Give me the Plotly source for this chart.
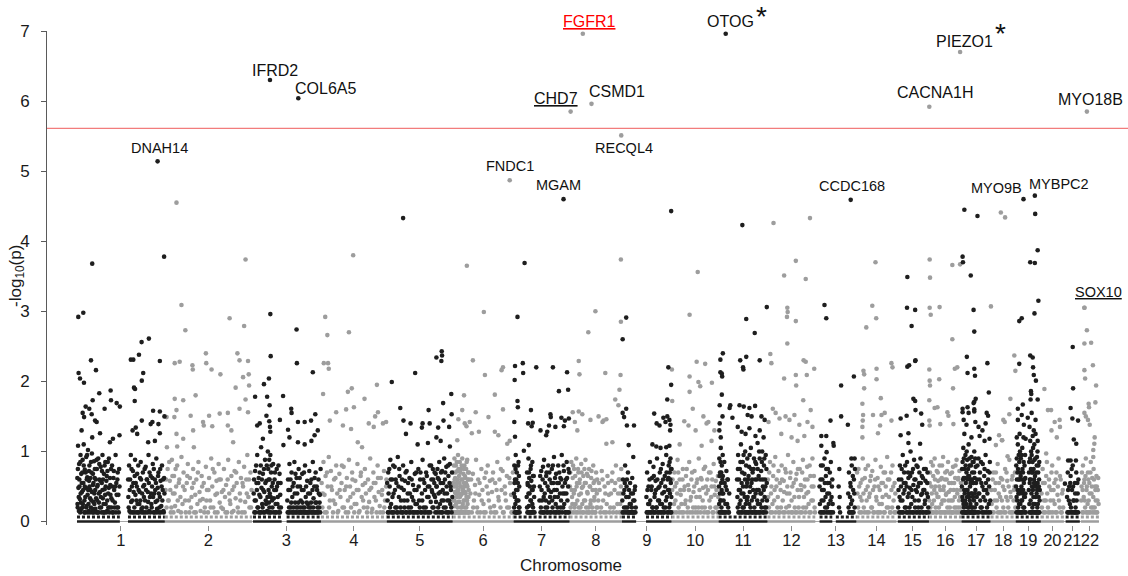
import plotly.graph_objects as go

# ---------------- data ----------------
chrom_names = [str(i) for i in range(1, 23)]
# chromosome extent along the x axis (Mb)
chrom_span = [248, 246, 195, 186, 186, 172, 158, 148, 140, 133, 138, 135,
              116, 113, 92, 92, 82, 71, 71, 65, 48, 51]

# (position in Mb within chromosome, -log10(p))
chr1 = [(3.7,2.92),(17.8,2.98),(39.5,2.30),(53.6,2.16),(4.5,2.12),(8.5,2.04),(19.7,1.98),(62.9,1.83),(95,1.87),(44.3,1.73),
        (24.5,1.64),(34.7,1.61),(78,1.61),(96,1.73),(112,1.69),(121,1.64),(16,1.55),(41.5,1.53),(51,1.44),(55.5,1.42),(20,1.49),
        (65,1.26),(101.5,1.18),(120,1.23),(93,1.13),(43,1.2),(13,1.3),(246,3.78),(43,3.68),
        (182.5,2.56),(203,2.61),(152,2.31),(159,2.31),(175,2.38),(234,2.29),(187,2.12),(183,2.01),(161,1.91),(164,1.89),(163,1.72),
        (215,1.58),(234,1.57),(183,1.44),(208,1.39),(213,1.42),(230,1.39),(247,1.5),(166,1.34),(157,1.3),(170,1.25),(201,1.13),(234,1.26),(220,1.15),
        (1,0.62),(2,0.2),(3,1.08),(5,0.35),(6,0.82),(7,0.5),(9,0.13),(10,0.95),(11,0.27),(12,0.68),(14,0.42),(15,0.2),(16,0.88),(18,0.55),
        (19,1.1),(21,0.3),(22,0.74),(23,0.13),(25,0.48),(26,0.92),(27,0.22),(29,0.63),(30,0.38),(31,1.02),(33,0.15),(34,0.58),(35,0.8),
        (37,0.33),(38,0.45),(39,0.2),(41,0.7),(42,0.97),(44,0.13),(45,0.52),(46,0.28),(48,0.86),(49,0.4),(50,0.62),(52,0.18),(54,0.33),
        (56,0.75),(57,0.5),(59,0.13),(60,0.9),(62,0.27),(63,0.6),(65,0.42),(67,0.78),(68,0.2),(70,0.55),(72,0.95),(73,0.33),(75,0.13),
        (76,0.68),(78,0.46),(80,0.85),(81,0.25),(83,0.58),(85,0.15),(86,0.72),(88,0.4),(90,0.9),(92,0.2),(94,0.52),(97,0.33),(99,0.8),
        (100,0.13),(103,0.62),(105,0.45),(107,0.27),(109,0.95),(111,0.55),(113,0.2),(115,0.7),(117,0.38),(118,0.13),(120,0.5),
        (1.5,0.25),(2.5,0.75),(4,0.48),(5.5,0.15),(6.5,0.6),(8,0.32),(9.5,0.85),(10.5,0.4),(12,0.18),(13.5,0.55),(15,0.7),(16.5,0.25),
        (17.5,0.45),(19,0.8),(20.5,0.13),(22,0.5),(23.5,0.35),(24.5,0.7),(26,0.2),(27.5,0.6),(28.5,0.95),(30,0.13),(31.5,0.45),(32.5,0.25),
        (34,0.72),(35.5,0.5),(36.5,0.13),(38,0.62),(39.5,0.85),(40.5,0.3),(42,0.42),(43.5,0.18),(45,0.68),(46.5,0.55),(47.5,0.13),(49,0.25),
        (50.5,0.75),(51.5,0.45),(53,0.6),(54.5,0.13),(55.5,0.88),(57,0.3),(58.5,0.52),(60,0.13),(61.5,0.4),(63,0.82),(64.5,0.2),(66,0.58),
        (67.5,0.35),(69,0.13),(70.5,0.72),(72,0.45),(73.5,0.6),(75,0.25),(76.5,0.13),(78,0.8),(79.5,0.38),(81,0.5),(82.5,0.13),(84,0.65),
        (85.5,0.3),(87,0.85),(88.5,0.2),(90,0.48),(91.5,0.13),(93,0.62),(94.5,0.38),(96,0.75),(97.5,0.2),(99,0.5),(100.5,0.3),(102,0.13),
        (104,0.72),(106,0.2),(108,0.5),(110,0.13),(112,0.38),(114,0.6),(116,0.2),(119,0.75),
        (145,0.35),(147,0.8),(148,0.15),(150,0.6),(152,0.95),(153,0.28),(155,0.5),(157,0.13),(158,0.72),(160,0.42),(162,0.2),(164,0.88),
        (166,0.55),(168,0.3),(170,0.68),(172,0.13),(174,0.45),(176,0.25),(178,0.62),(180,0.85),(182,0.18),(184,0.4),(186,0.7),(188,0.13),
        (190,0.52),(192,0.3),(194,0.78),(196,0.2),(198,0.6),(200,0.42),(202,0.95),(204,0.15),(206,0.35),(208,0.65),(210,0.25),(212,0.5),
        (214,0.82),(216,0.13),(218,0.4),(220,0.6),(222,0.28),(224,0.9),(226,0.18),(228,0.48),(230,0.7),(232,0.13),(234,0.35),(236,0.58),
        (238,0.22),(240,0.8),(242,0.45),(244,0.15),(246,0.62),
        (144.5,0.6),(146,0.2),(149,0.45),(151,0.13),(154,0.75),(156,0.3),(159,0.55),(161,0.13),(163,0.65),(165,0.38),(167,0.13),(169,0.5),
        (171,0.25),(173,0.8),(175,0.13),(177,0.42),(179,0.3),(181,0.6),(183,0.13),(185,0.2),(187,0.5),(189,0.35),(191,0.75),(193,0.13),
        (195,0.45),(197,0.6),(199,0.13),(201,0.28),(203,0.55),(205,0.7),(207,0.13),(209,0.4),(211,0.2),(213,0.62),(215,0.35),(217,0.75),
        (219,0.13),(221,0.45),(223,0.55),(225,0.13),(227,0.3),(229,0.65),(231,0.4),(233,0.2),(235,0.75),(237,0.13),(239,0.5),(241,0.3),
        (243,0.6),(245,0.13),(247,0.4)]
chr2 = [(47,3.09),(58,2.73),(183,2.9),(224,2.79),(28,2.26),(42,2.28),(116,2.40),(117,2.26),(78,2.23),(79,2.17),(132,2.17),(157,2.1),
        (205,2.4),(211,2.3),(235,2.29),(237,2.1),(221,2.06),(200,1.91),(238,1.94),(228,1.74),(211,1.61),(235,1.56),(28,1.75),(52,1.73),
        (87,1.8),(33,1.59),(73,1.51),(27,1.49),(5,1.49),(108,1.42),(125,1.51),(155,1.54),(178,1.55),(134,1.36),(110,1.37),(80,1.3),
        (33,1.25),(52,1.18),(35,1.07),(6,1.06),(82,1.06),(178,1.37),(188,1.3),(193,1.13),(33,4.55),(228,3.74),
        (2,0.45),(5,0.2),(8,0.75),(11,0.3),(14,0.58),(17,0.13),(20,0.88),(23,0.4),(26,0.65),(29,0.22),(32,0.5),(35,0.8),(38,0.15),(41,0.6),
        (44,0.35),(47,0.92),(50,0.25),(53,0.7),(56,0.45),(59,0.13),(62,0.55),(65,0.82),(68,0.3),(71,0.62),(74,0.2),(77,0.48),(80,0.75),
        (83,0.13),(86,0.38),(89,0.6),(92,0.25),(95,0.85),(98,0.42),(101,0.15),(104,0.65),(107,0.32),(110,0.55),(113,0.2),(116,0.78),
        (119,0.45),(122,0.13),(125,0.62),(128,0.3),(131,0.9),(134,0.5),(137,0.2),(140,0.7),(143,0.38),(146,0.58),(149,0.13),(152,0.82),
        (155,0.27),(158,0.6),(161,0.42),(164,0.18),(167,0.75),(170,0.35),(173,0.52),(176,0.13),(179,0.88),(182,0.4),(185,0.25),(188,0.65),
        (191,0.45),(194,0.15),(197,0.72),(200,0.33),(203,0.55),(206,0.2),(209,0.85),(212,0.4),(215,0.62),(218,0.13),(221,0.5),(224,0.78),
        (227,0.28),(230,0.6),(233,0.95),(236,0.35),(239,0.2),(242,0.7),(245,0.45),
        (3.5,0.6),(9.5,0.3),(12.5,0.85),(15.5,0.45),(18.5,0.2),(21.5,0.65),(24.5,0.13),(27.5,0.4),(30.5,0.75),(36.5,0.3),(39.5,0.55),
        (45.5,0.13),(51.5,0.5),(57.5,0.3),(63.5,0.65),(69.5,0.13),(75.5,0.35),(81.5,0.55),(87.5,0.13),(93.5,0.7),(99.5,0.3),(105.5,0.5),
        (111.5,0.13),(117.5,0.3),(123.5,0.45),(129.5,0.2),(135.5,0.75),(141.5,0.13),(147.5,0.4),(153.5,0.6),(159.5,0.2),(165.5,0.45),
        (171.5,0.13),(177.5,0.6),(183.5,0.3),(189.5,0.13),(195.5,0.5),(201.5,0.7),(207.5,0.13),(213.5,0.3),(219.5,0.55),(225.5,0.13),
        (231.5,0.4),(237.5,0.6),(243.5,0.2)]
chr3 = [(52,2.96),(53,2.36),(48,2.04),(34,1.96),(9,1.78),(43,1.78),(50,1.66),(41,1.51),(22,1.4),(15,1.37),(49,1.43),(51,1.35),(52,1.28),
        (79,1.45),(102,1.31),(89,1.09),(88,1.79),(126,2.74),(127,2.26),(172,2.13),(111,1.61),(112,1.55),(130,1.42),(149,1.42),(179,1.53),
        (167,1.44),(186,1.3),(177,1.23),(168,1.15),(106,1.2),(130,1.13),(149,1.1),(31,1.18),(26,1.06),
        (5,0.4),(7,0.13),(9,0.72),(11,0.3),(13,0.55),(15,0.95),(17,0.2),(19,0.62),(21,0.38),(23,0.13),(25,0.8),(27,0.48),(29,0.25),(31,0.68),
        (33,0.13),(35,0.42),(37,0.88),(39,0.3),(41,0.58),(43,0.15),(45,1.0),(46,0.75),(47,0.45),(48,0.27),(49,0.88),(50,0.6),(51,0.13),
        (52,0.95),(53,0.35),(54,0.7),(56,0.5),(58,0.2),(60,0.82),(62,0.33),(64,0.6),(66,0.13),(68,0.45),(70,0.75),(72,0.25),(74,0.55),
        (76,0.13),(78,0.68),(80,0.38),(82,0.2),
        (6,0.6),(8,0.3),(10,0.13),(12,0.8),(14,0.45),(16,0.2),(18,0.55),(20,0.13),(22,0.7),(24,0.35),(26,0.13),(28,0.6),(30,0.2),(32,0.45),
        (34,0.75),(36,0.13),(38,0.55),(40,0.25),(42,0.8),(44,0.35),(46,0.13),(47.5,0.6),(49.5,0.2),(50.5,0.4),(53.5,0.13),(55,0.8),(57,0.3),
        (59,0.55),(61,0.13),(63,0.45),(65,0.7),(67,0.25),(69,0.13),(71,0.5),(73,0.35),(75,0.8),(77,0.2),(79,0.13),(81,0.55),
        (100,0.3),(102,0.6),(104,0.13),(106,0.82),(108,0.45),(110,0.2),(112,0.7),(114,0.35),(116,0.13),(118,0.55),(120,0.85),(122,0.27),
        (124,0.13),(126,0.62),(128,0.4),(130,0.2),(132,0.75),(134,0.13),(136,0.5),(138,0.3),(140,0.13),(142,0.68),(144,0.2),(146,0.45),
        (148,0.13),(150,0.8),(152,0.35),(154,0.13),(156,0.58),(158,0.25),(160,0.13),(162,0.72),(164,0.4),(166,0.2),(168,0.6),(170,0.13),
        (172,0.85),(174,0.33),(176,0.5),(178,0.13),(180,0.7),(182,0.27),(184,0.45),(186,0.13),(188,0.6),(190,0.2),(192,0.38),(194,0.75),
        (101,0.13),(103,0.45),(105,0.2),(107,0.13),(109,0.6),(111,0.27),(113,0.13),(115,0.5),(117,0.2),(119,0.13),(121,0.4),(123,0.68),
        (125,0.2),(127,0.13),(129,0.5),(131,0.27),(133,0.13),(135,0.62),(137,0.2),(139,0.13),(141,0.45),(143,0.27),(145,0.13),(147,0.7),
        (149,0.2),(151,0.13),(153,0.5),(155,0.27),(157,0.13),(159,0.4),(161,0.2),(163,0.13),(165,0.55),(167,0.27),(169,0.13),(171,0.45),
        (173,0.2),(175,0.13),(177,0.62),(179,0.27),(181,0.13),(183,0.5),(185,0.2),(187,0.13),(189,0.4),(191,0.27),(193,0.13)]
chr4 = [(12,2.92),(18,2.66),(8,2.26),(20,2.26),(22,2.18),(79,2.7),(6,1.82),(87,1.9),(76,1.85),(158,1.95),(123,1.75),(93,1.63),(71,1.6),
        (43,1.56),(25,1.44),(161,1.56),(153,1.5),(149,1.35),(175,1.4),(184,1.42),(62,1.37),(85,1.32),(104,1.13),(116,1.06),(135,1.4),(91,3.8),
        (2,0.55),(4,0.2),(7,0.85),(10,0.38),(13,0.65),(16,0.13),(19,0.5),(22,0.92),(25,0.3),(28,0.72),(31,0.45),(34,0.13),(37,0.6),(40,0.25),
        (43,0.8),(46,0.4),(49,0.15),(52,0.68),(55,0.35),(58,0.55),(61,0.2),(64,0.78),(67,0.45),(70,0.13),(73,0.62),(76,0.3),(79,0.88),
        (82,0.5),(85,0.2),(88,0.7),(91,0.4),(94,0.13),(97,0.58),(100,0.25),(103,0.82),(106,0.45),(109,0.15),(112,0.65),(115,0.35),(118,0.52),
        (121,0.2),(124,0.75),(127,0.4),(130,0.13),(133,0.6),(136,0.28),(139,0.9),(142,0.48),(145,0.18),(148,0.7),(151,0.35),(154,0.55),
        (157,0.13),(160,0.8),(163,0.42),(166,0.22),(169,0.62),(172,0.38),(175,0.13),(178,0.72),(181,0.3),(184,0.5),
        (5,0.4),(11,0.13),(17,0.7),(23,0.2),(29,0.5),(35,0.3),(41,0.62),(47,0.13),(53,0.45),(59,0.8),(65,0.2),(71,0.5),(77,0.13),(83,0.35),
        (89,0.6),(95,0.25),(101,0.45),(107,0.13),(113,0.7),(119,0.3),(125,0.55),(131,0.2),(137,0.45),(143,0.13),(149,0.55),(155,0.3),
        (161,0.62),(167,0.13),(173,0.45),(179,0.2),(185,0.6)]
chr5 = [(14,1.99),(38,1.62),(47,1.44),(67,1.4),(54,1.25),(80,2.12),(140,2.34),(155,2.43),(156,2.37),(154,2.29),(118,1.59),(159,1.69),
        (182,1.82),(101,1.4),(99,1.34),(121,1.4),(145,1.34),(160,1.44),(176,1.35),(183,1.53),(116,1.12),(140,1.2),(152,1.15),(178,1.07),
        (87,1.1),(46,4.33),
        (2,0.3),(4,0.7),(6,0.13),(8,0.5),(10,0.88),(12,0.25),(15,0.6),(17,0.13),(19,0.4),(22,0.78),(24,0.2),(27,0.55),(29,0.13),(31,0.92),
        (34,0.35),(36,0.65),(39,0.2),(41,0.48),(44,0.13),(46,0.8),(49,0.3),(51,0.58),(54,0.13),(56,0.72),(59,0.4),(61,0.2),(64,0.62),
        (66,0.13),(69,0.85),(71,0.35),(74,0.52),(76,0.13),(79,0.68),(81,0.25),(84,0.45),(86,0.13),(89,0.75),(91,0.3),(94,0.6),(96,0.13),
        (99,0.4),(101,0.88),(104,0.2),(106,0.55),(109,0.13),(111,0.7),(114,0.35),(116,0.5),(119,0.13),(121,0.8),(124,0.28),(126,0.6),
        (128,0.42),(130,0.75),(132,0.2),(134,0.55),(136,0.35),(138,0.68),(140,0.5),(142,0.13),(144,0.62),(146,0.4),(148,0.85),(150,0.25),
        (152,0.55),(154,0.13),(156,0.72),(158,0.45),(160,0.3),(162,0.9),(164,0.6),(166,0.2),(168,0.78),(170,0.4),(172,0.13),(174,0.65),
        (176,0.3),(178,0.82),(180,0.5),(182,0.2),(184,0.7),
        (1,0.55),(3,0.13),(5,0.4),(7,0.75),(9,0.2),(11,0.6),(13,0.13),(16,0.35),(18,0.8),(20,0.13),(23,0.45),(25,0.6),(28,0.2),(30,0.13),
        (33,0.5),(35,0.75),(38,0.13),(40,0.3),(43,0.6),(45,0.13),(48,0.45),(50,0.2),(53,0.7),(55,0.13),(58,0.3),(60,0.55),(63,0.13),(65,0.4),
        (68,0.2),(70,0.6),(73,0.13),(75,0.3),(78,0.45),(80,0.13),(83,0.7),(85,0.25),(88,0.13),(90,0.5),(93,0.2),(95,0.7),(98,0.13),(100,0.3),
        (103,0.6),(105,0.13),(108,0.45),(110,0.2),(113,0.65),(115,0.13),(118,0.35),(120,0.5),(123,0.13),(125,0.8),(127,0.45),(129,0.2),
        (131,0.6),(133,0.38),(135,0.7),(137,0.13),(139,0.28),(141,0.5),(143,0.75),(145,0.2),(147,0.6),(149,0.13),(151,0.42),(153,0.7),
        (155,0.3),(157,0.13),(159,0.55),(161,0.2),(163,0.4),(165,0.7),(167,0.13),(169,0.5),(171,0.3),(173,0.8),(175,0.13),(177,0.55),
        (179,0.25),(181,0.45),(183,0.13),(185,0.35)]
chr6 = [(40,3.65),(88,2.99),(57,2.3),(91,2.09),(142,2.2),(138,2.16),(119,1.81),(32,1.8),(27,1.59),(16,1.46),(65,1.56),(101,1.49),
        (142,1.6),(34,1.4),(39,1.36),(48,1.42),(54,1.26),(74,1.28),(119,1.28),(129,1.23),(154,1.11),(161,1.15),(13,1.16),
        (1,0.3),(2,0.7),(3,0.13),(4,0.5),(5,0.9),(6,0.22),(7,0.62),(8,0.4),(9,0.8),(10,0.13),(11,0.55),(12,0.35),(13,0.72),(14,0.2),
        (15,0.95),(16,0.45),(17,0.13),(18,0.65),(19,0.28),(20,0.85),(21,0.5),(22,0.13),(23,0.75),(24,0.38),(25,0.6),(26,0.2),(27,0.9),
        (28,0.45),(29,0.13),(30,0.68),(31,0.3),(32,0.55),(33,0.8),(34,0.2),(35,0.42),(36,0.62),(37,0.13),(38,0.75),(39,0.35),(40,0.52),
        (41,0.88),(42,0.25),(43,0.6),(44,0.13),(45,0.45),(46,0.7),
        (1.5,0.55),(2.5,0.13),(3.5,0.8),(4.5,0.3),(5.5,0.6),(6.5,0.42),(7.5,0.13),(8.5,0.7),(9.5,0.25),(10.5,0.5),(11.5,0.85),(12.5,0.13),
        (13.5,0.45),(14.5,0.6),(15.5,0.28),(16.5,0.75),(17.5,0.4),(18.5,0.13),(19.5,0.55),(20.5,0.35),(21.5,0.7),(22.5,0.2),(23.5,0.5),
        (24.5,0.13),(25.5,0.8),(26.5,0.4),(27.5,0.6),(28.5,0.25),(29.5,0.45),(30.5,0.13),(31.5,0.75),(32.5,0.3),(33.5,0.5),(34.5,0.65),
        (35.5,0.13),(36.5,0.4),(37.5,0.55),(38.5,0.2),(39.5,0.85),(40.5,0.3),(41.5,0.5),(42.5,0.13),(43.5,0.7),(44.5,0.35),(45.5,0.6),
        (46.5,0.13),
        (50,0.4),(54,0.13),(57,0.68),(60,0.3),(63,0.52),(66,0.88),(69,0.2),(72,0.6),(75,0.38),(78,0.13),(81,0.75),(84,0.45),(87,0.25),
        (90,0.62),(93,0.13),(96,0.5),(99,0.8),(102,0.3),(105,0.58),(108,0.13),(111,0.42),(114,0.7),(117,0.22),(120,0.55),(123,0.13),
        (126,0.85),(129,0.35),(132,0.6),(135,0.2),(138,0.45),(141,0.72),(144,0.13),(147,0.5),(150,0.3),(153,0.65),(156,0.9),(159,0.2),
        (162,0.55),(165,0.38),(168,0.13),(170,0.7),
        (52,0.6),(58,0.2),(64,0.4),(70,0.13),(76,0.55),(82,0.3),(88,0.13),(94,0.7),(100,0.4),(106,0.2),(112,0.6),(118,0.13),(124,0.45),
        (130,0.3),(136,0.75),(142,0.13),(148,0.4),(154,0.2),(160,0.62),(166,0.13)]
chr7 = [(31,3.69),(11,2.92),(4,2.22),(26,2.26),(3,2.02),(27,2.12),(64,2.2),(111,2.2),(151,2.13),(128,1.86),(154,1.88),(11,1.72),
        (12,1.63),(49,1.59),(2,1.42),(41,1.4),(51,1.36),(54,1.41),(76,1.3),(104,1.53),(105,1.49),(100,1.37),(118,1.35),(135,1.48),
        (145,1.44),(156,1.47),(142,1.36),(95,1.28),(92,1.23),(4,1.21),(43,1.09),(29,1.01),
        (1,0.4),(2,0.8),(3,0.13),(4,0.6),(5,0.25),(6,0.95),(7,0.45),(8,0.13),(9,0.7),(10,0.3),(12,0.55),(13,0.13),(14,0.85),(15,0.2),
        (16,0.5),(17,0.13),
        (1.5,0.2),(2.5,0.55),(3.5,0.35),(5.5,0.75),(6.5,0.13),(7.5,0.6),(8.5,0.3),(9.5,0.13),(11,0.45),(12.5,0.8),(13.5,0.3),(15,0.65),
        (16.5,0.2),
        (37,0.35),(38,0.7),(39,0.13),(40,0.52),(42,0.9),(43,0.22),(44,0.62),(45,0.4),(47,0.13),(48,0.75),(49,0.3),(50,0.58),(52,0.13),
        (53,0.85),(54,0.45),(55,0.2),(57,0.65),(58,0.35),(59,0.13),
        (38,0.2),(39.5,0.55),(41,0.13),(42,0.4),(43.5,0.7),(45,0.13),(46,0.5),(47.5,0.3),(49,0.8),(50.5,0.13),(51.5,0.45),(53,0.25),
        (54.5,0.65),(56,0.13),(57.5,0.5),
        (74,0.5),(76,0.13),(78,0.72),(80,0.3),(82,0.6),(84,0.13),(86,0.88),(88,0.4),(90,0.2),(92,0.65),(94,0.13),(96,0.5),(98,0.8),
        (100,0.27),(102,0.6),(104,0.13),(106,0.42),(108,0.75),(110,0.2),(112,0.55),(114,0.92),(116,0.35),(118,0.13),(120,0.68),(122,0.45),
        (124,0.2),(126,0.8),(128,0.55),(130,0.13),(132,0.62),(134,0.3),(136,0.95),(138,0.5),(140,0.2),(142,0.72),(144,0.4),(146,0.13),
        (148,0.6),(150,0.85),(152,0.3),(154,0.5),(156,0.13),(157,0.7),
        (73,0.3),(75,0.65),(77,0.2),(79,0.45),(81,0.13),(83,0.78),(85,0.35),(87,0.13),(89,0.55),(91,0.3),(93,0.7),(95,0.2),(97,0.13),
        (99,0.45),(101,0.7),(103,0.35),(105,0.13),(107,0.55),(109,0.3),(111,0.8),(113,0.13),(115,0.45),(117,0.62),(119,0.25),(121,0.13),
        (123,0.55),(125,0.35),(127,0.13),(129,0.7),(131,0.4),(133,0.2),(135,0.6),(137,0.13),(139,0.4),(141,0.8),(143,0.25),(145,0.55),
        (147,0.13),(149,0.4),(151,0.62),(153,0.13),(155,0.75)]
chr8 = [(145,3.74),(73,3.0),(53,2.7),(26,2.29),(28,2.1),(9,1.56),(26,1.57),(36,1.53),(15,1.42),(22,1.3),(59,1.45),(101,2.12),(145,2.85),
        (144,2.09),(141,1.88),(129,1.74),(138,1.66),(82,1.5),(93,1.42),(104,1.46),(96,1.44),(104,1.11),(121,1.13),
        (1,0.5),(3,0.2),(5,0.85),(7,0.35),(9,0.62),(11,0.13),(13,0.75),(15,0.45),(17,0.25),(19,0.9),(21,0.55),(23,0.13),(25,0.7),(27,0.38),
        (29,0.6),(31,0.2),(33,0.82),(35,0.48),(37,0.13),(39,0.65),(41,0.3),(43,0.55),(45,0.88),(47,0.2),(49,0.68),(51,0.4),(53,0.13),
        (55,0.75),(57,0.5),(59,0.25),(61,0.62),(63,0.13),(65,0.45),(67,0.8),(69,0.3),(71,0.58),(73,0.13),(75,0.7),(77,0.4),(79,0.2),
        (83,0.55),(87,0.13),(91,0.72),(95,0.3),(99,0.5),(103,0.13),(107,0.65),(111,0.38),(115,0.2),(119,0.58),(123,0.13),(127,0.45),
        (131,0.8),(135,0.25),(139,0.6),(142,0.13),(144,0.4),(146,0.75),
        (2,0.7),(4,0.13),(6,0.45),(8,0.25),(10,0.8),(12,0.4),(14,0.2),(16,0.65),(18,0.13),(20,0.5),(22,0.3),(24,0.75),(26,0.2),(28,0.55),
        (30,0.13),(32,0.4),(34,0.7),(36,0.25),(38,0.5),(40,0.13),(42,0.75),(44,0.3),(46,0.55),(48,0.13),(50,0.42),(52,0.65),(54,0.2),
        (56,0.13),(58,0.5),(60,0.3),(62,0.72),(64,0.2),(66,0.13),(68,0.55),(70,0.35),(72,0.13),(74,0.45),(76,0.2),(78,0.6),(81,0.3),
        (85,0.45),(89,0.2),(93,0.6),(97,0.13),(101,0.4),(105,0.25),(109,0.55),(113,0.13),(117,0.4),(121,0.7),(125,0.2),(129,0.55),
        (133,0.13),(137,0.4),(141,0.6),(143,0.25),(145,0.5),(147,0.13)]
chr9 = [(139,4.43),(12,2.91),(2,2.6),(12,1.61),(2,1.55),(6,1.49),(14,1.37),(34,1.37),(19,1.09),(32,0.92),(131,2.2),(139,1.95),(128,1.74),
        (91,1.54),(98,1.4),(106,1.37),(117,1.48),(123,1.42),(128,1.5),(134,1.45),(137,1.38),(136,1.3),(86,1.1),(97,1.07),(109,1.05),
        (125,1.06),(134,1.08),
        (1,0.3),(3,0.6),(5,0.13),(7,0.45),(9,0.8),(11,0.2),(13,0.5),(15,0.13),(17,0.7),(19,0.35),(21,0.13),(23,0.55),(25,0.25),(27,0.13),
        (29,0.62),(31,0.4),(33,0.13),(35,0.3),(37,0.5),(39,0.2),
        (2,0.13),(4,0.4),(6,0.2),(8,0.55),(10,0.13),(12,0.35),(14,0.6),(16,0.2),(18,0.13),(20,0.45),(22,0.25),(24,0.13),(26,0.4),(28,0.2),
        (30,0.13),(32,0.3),(34,0.13),(36,0.45),(38,0.13),
        (69,0.35),(71,0.7),(73,0.13),(75,0.5),(77,0.25),(79,0.85),(81,0.13),(83,0.45),(85,0.62),(87,0.2),(89,0.78),(91,0.13),(93,0.4),
        (95,0.58),(97,0.2),(99,0.9),(101,0.13),(103,0.48),(105,0.3),(107,0.7),(109,0.13),(111,0.55),(113,0.25),(115,0.82),(117,0.13),
        (119,0.42),(121,0.65),(123,0.2),(125,0.95),(127,0.35),(129,0.6),(131,0.13),(132,0.8),(133,0.45),(135,0.7),(136,0.25),(137,0.9),
        (138,0.55),(139,0.13),(140,0.75),
        (70,0.13),(72,0.45),(74,0.25),(76,0.13),(78,0.6),(80,0.3),(82,0.13),(84,0.5),(86,0.2),(88,0.13),(90,0.65),(92,0.35),(94,0.13),
        (96,0.45),(98,0.2),(100,0.6),(102,0.3),(104,0.13),(106,0.5),(108,0.25),(110,0.75),(112,0.13),(114,0.4),(116,0.6),(118,0.2),
        (120,0.13),(122,0.5),(124,0.3),(126,0.7),(128,0.13),(130,0.45),(131.5,0.62),(133.5,0.2),(134.5,0.85),(135.5,0.4),(136.5,0.6),
        (137.5,0.13),(138.5,0.75),(139.5,0.35)]
chr10 = [(74,3.56),(51,2.95),(71,2.28),(95,2.25),(51,2.07),(76,1.99),(81,1.93),(114,1.98),(51,1.85),(60,1.61),(36,1.43),(48,1.37),
         (90,1.5),(1,2.17),(2,1.72),(68,1.3),(99,1.4),(104,1.42),(121,1.3),(23,1.1),(85,1.08),(113,1.15),
         (2,0.45),(5,0.13),(8,0.7),(11,0.3),(14,0.55),(17,0.88),(20,0.2),(23,0.6),(26,0.38),(29,0.13),(32,0.75),(35,0.45),(38,0.25),
         (41,0.65),(44,0.13),(47,0.52),(50,0.85),(53,0.3),(56,0.6),(59,0.13),(62,0.42),(65,0.72),(68,0.2),(71,0.55),(74,0.13),(77,0.9),
         (80,0.35),(83,0.62),(86,0.2),(89,0.48),(92,0.13),(95,0.78),(98,0.4),(101,0.6),(104,0.13),(107,0.3),(110,0.7),(113,0.5),
         (116,0.13),(119,0.82),(122,0.38),(125,0.58),(128,0.2),(131,0.65),
         (3,0.6),(7,0.25),(10,0.5),(13,0.13),(16,0.4),(19,0.7),(22,0.13),(25,0.45),(28,0.25),(31,0.6),(34,0.13),(37,0.5),(40,0.3),
         (43,0.75),(46,0.2),(49,0.45),(52,0.13),(55,0.35),(58,0.7),(61,0.2),(64,0.5),(67,0.13),(70,0.35),(73,0.6),(76,0.2),(79,0.45),
         (82,0.13),(85,0.6),(88,0.3),(91,0.75),(94,0.2),(97,0.5),(100,0.13),(103,0.45),(106,0.7),(109,0.2),(112,0.35),(115,0.6),
         (118,0.13),(121,0.5),(124,0.2),(127,0.45),(130,0.13),(132,0.35)]
chr11 = [(67,4.23),(136,3.06),(102,2.69),(78,2.89),(12,2.4),(5,2.31),(5,2.13),(9,2.11),(10,2.07),(61,2.3),(69,2.2),(70,2.17),(78,2.35),
         (116,2.3),(9,1.81),(3,1.66),(33,1.66),(31,1.62),(59,1.66),(71,1.64),(87,1.62),(103,1.65),(11,1.5),(39,1.48),(82,1.52),(93,1.5),
         (121,1.5),(130,1.45),(3,1.4),(2,1.3),(6,1.2),(54,1.35),(65,1.28),(76,1.25),(87,1.33),(104,1.22),(116,1.3),(127,1.2),
         (1,0.5),(2,0.9),(3,0.13),(4,0.7),(5,0.3),(6,1.05),(7,0.55),(8,0.2),(9,0.8),(10,0.4),(11,0.13),(12,0.65),(14,0.3),(16,0.85),
         (18,0.13),(20,0.5),(22,0.72),(24,0.25),(26,0.6),(28,0.13),(30,0.4),
         (1.5,0.25),(2.5,0.65),(3.5,0.4),(4.5,0.13),(5.5,0.85),(6.5,0.3),(7.5,0.7),(8.5,0.45),(9.5,0.13),(10.5,0.6),(11.5,0.95),(13,0.4),
         (15,0.13),(17,0.55),(19,0.25),(21,0.13),(23,0.45),(25,0.6),(27,0.2),(29,0.13),
         (52,0.6),(54,0.2),(55,0.95),(57,0.45),(58,0.13),(60,0.75),(62,0.3),(63,1.1),(65,0.55),(66,0.13),(68,0.85),(70,0.4),(71,0.2),
         (73,0.68),(75,1.0),(76,0.13),(78,0.5),(80,0.3),(81,0.9),(83,0.6),(85,0.13),(86,0.78),(88,0.42),(90,0.2),(91,1.05),(93,0.55),
         (95,0.13),(96,0.7),(98,0.35),(100,0.9),(101,0.2),(103,0.6),(105,0.13),(106,0.82),(108,0.45),(110,1.12),(111,0.25),(113,0.65),
         (115,0.13),(116,0.9),(118,0.4),(120,0.72),(121,0.2),(123,1.0),(125,0.5),(126,0.13),(128,0.8),(130,0.35),(131,0.6),(133,0.95),
         (134,0.2),(136,0.55),
         (53,0.35),(54.5,0.75),(56,0.13),(57.5,0.6),(59,0.25),(60.5,0.45),(61.5,0.85),(63.5,0.13),(64.5,0.4),(66.5,0.7),(67.5,0.2),(69,0.5),
         (70.5,0.95),(72,0.13),(73.5,0.35),(74.5,0.6),(76.5,0.25),(77.5,0.8),(79,0.13),(80.5,0.55),(82,0.35),(83.5,0.13),(84.5,0.65),
         (86.5,0.25),(87.5,0.95),(89,0.5),(90.5,0.13),(92,0.75),(93.5,0.3),(94.5,0.6),(96.5,0.13),(97.5,0.45),(99,0.75),(100.5,0.35),
         (102,0.13),(103.5,0.85),(104.5,0.4),(106.5,0.13),(107.5,0.6),(109,0.3),(110.5,0.75),(112,0.13),(113.5,0.45),(114.5,1.0),
         (116.5,0.25),(117.5,0.6),(119,0.13),(120.5,0.4),(122,0.85),(123.5,0.3),(124.5,0.6),(126.5,0.13),(127.5,0.45),(129,0.9),
         (130.5,0.2),(132,0.5),(133.5,0.13),(135,0.75),(136.5,0.3)]
chr12 = [(17,4.26),(120,4.33),(80,3.72),(47,3.51),(108,3.46),(56,3.05),(57,2.99),(55,2.92),(80,2.86),(56,2.54),(8,2.39),(11,2.26),
         (47,2.04),(80,2.09),(81,1.94),(102,2.3),(108,2.28),(111,2.09),(132,2.18),(101,1.73),(122,1.59),(15,1.61),(3,1.42),(23,1.55),
         (34,1.47),(51,1.5),(62,1.45),(76,1.52),(90,1.38),(113,1.42),(127,1.35),(39,1.25),(68,1.2),(85,1.15),(104,1.22),
         (1,0.6),(4,0.2),(7,0.85),(10,0.4),(13,0.13),(16,0.65),(19,0.3),(22,0.92),(25,0.5),(28,0.2),(31,0.72),(34,0.13),(37,0.45),
         (40,0.8),(43,0.3),(46,0.58),(49,0.13),(52,0.7),(55,0.4),(58,0.95),(61,0.22),(64,0.62),(67,0.13),(70,0.5),(73,0.85),(76,0.35),
         (79,0.13),(82,0.68),(85,0.45),(88,0.2),(91,0.75),(94,0.52),(97,0.13),(100,0.88),(103,0.35),(106,0.6),(109,0.2),(112,0.78),
         (115,0.42),(118,0.13),(121,0.65),(124,0.3),(127,0.9),(130,0.5),(133,0.2),
         (2,0.35),(5,0.7),(8,0.13),(11,0.5),(14,0.25),(17,0.8),(20,0.45),(23,0.13),(26,0.6),(29,0.35),(32,0.13),(35,0.55),(38,0.2),
         (41,0.6),(44,0.13),(47,0.42),(50,0.75),(53,0.2),(56,0.5),(59,0.13),(62,0.4),(65,0.7),(68,0.3),(71,0.13),(74,0.55),(77,0.2),
         (80,0.6),(83,0.13),(86,0.75),(89,0.35),(92,0.13),(95,0.45),(98,0.7),(101,0.2),(104,0.5),(107,0.13),(110,0.4),(113,0.6),
         (116,0.25),(119,0.8),(122,0.13),(125,0.5),(128,0.3),(131,0.65),(134,0.13)]
chr13 = [(26,3.09),(31,2.9),(73,1.94),(109,2.07),(43,1.44),(73,1.5),(92,1.38),(17,1.22),(31,1.22),(51,1.12),(52,1.08),(17,1.08),
         (32,0.99),(102,0.9),(111,0.9),
         (12,0.5),(14,0.13),(16,0.8),(18,0.3),(20,0.6),(22,0.13),(24,0.45),(26,0.9),(28,0.2),(30,0.65),(32,0.13),(34,0.4),(36,0.75),
         (38,0.25),(40,0.55),(42,0.13),(44,0.85),(46,0.35),(48,0.6),(50,0.13),
         (13,0.25),(15,0.6),(17,0.13),(19,0.45),(21,0.8),(23,0.3),(25,0.13),(27,0.55),(29,0.35),(31,0.75),(33,0.2),(35,0.55),(37,0.13),
         (39,0.4),(41,0.7),(43,0.3),(45,0.13),(47,0.5),(49,0.25),
         (66,0.5),(67,0.2),(68,0.75),(69,0.35),(70,0.13),
         (93,0.4),(95,0.7),(97,0.13),(99,0.55),(101,0.25),(103,0.8),(105,0.13),(107,0.45),(109,0.6),(111,0.2),(112,0.75),
         (94,0.2),(96,0.13),(98,0.35),(100,0.5),(102,0.13),(104,0.3),(106,0.65),(108,0.13),(110,0.4)]
chr14 = [(54,3.7),(45,3.08),(56,2.9),(28,2.77),(20,2.15),(22,2.1),(57,2.18),(99,2.26),(102,2.2),(22,1.9),(57,2.03),(69,1.76),(17,1.68),
         (19,1.52),(18,1.44),(17,1.35),(47,1.52),(71,1.52),(80,1.55),(99,1.44),(67,1.37),(17,1.2),(61,1.26),
         (3,0.4),(6,0.75),(9,0.13),(12,0.55),(15,0.3),(18,0.9),(21,0.2),(24,0.62),(27,0.45),(30,0.13),(33,0.8),(36,0.35),(39,0.58),
         (42,0.2),(45,0.72),(48,0.13),(51,0.5),(54,0.88),(57,0.3),(60,0.62),(63,0.13),(66,0.45),(69,0.78),(72,0.25),(75,0.55),(78,0.13),
         (81,0.7),(84,0.38),(87,0.92),(90,0.2),(93,0.6),(96,0.13),(99,0.45),(102,0.8),(105,0.3),(108,0.55),(111,0.13),
         (2,0.7),(5,0.2),(8,0.5),(11,0.35),(14,0.13),(17,0.6),(20,0.4),(23,0.13),(26,0.75),(29,0.3),(32,0.5),(35,0.13),(38,0.4),(41,0.65),
         (44,0.2),(47,0.45),(50,0.13),(53,0.6),(56,0.35),(59,0.13),(62,0.5),(65,0.25),(68,0.13),(71,0.55),(74,0.35),(77,0.7),(80,0.13),
         (83,0.5),(86,0.2),(89,0.6),(92,0.35),(95,0.13),(98,0.7),(101,0.2),(104,0.5),(107,0.13),(110,0.4)]
chr15 = [(31,3.49),(30,3.05),(53,3.02),(43,2.79),(31,2.21),(36,2.23),(53,2.29),(54,2.3),(48,1.75),(53,1.72),(54,1.59),(12,1.47),
         (29,1.51),(70,1.54),(73,1.38),(12,1.23),(34,1.26),(67,1.11),(34,1.12),
         (6,0.45),(8,0.13),(10,0.8),(12,0.3),(14,0.6),(16,0.13),(18,0.95),(20,0.4),(22,0.7),(24,0.2),(26,0.55),(28,0.13),(30,0.85),
         (32,0.35),(34,0.62),(36,0.13),(38,0.48),(40,1.0),(42,0.25),(44,0.7),(46,0.13),(48,0.52),(50,0.88),(52,0.3),(54,0.6),(56,0.13),
         (58,0.42),(60,0.78),(62,0.2),(64,0.55),(66,0.13),(68,0.9),(70,0.38),(72,0.65),(74,0.13),(76,0.45),(78,0.75),(80,0.25),(82,0.58),
         (84,0.13),(86,0.4),(88,0.7),(90,0.2),
         (5,0.2),(7,0.6),(9,0.35),(11,0.13),(13,0.5),(15,0.75),(17,0.3),(19,0.13),(21,0.55),(23,0.45),(25,0.8),(27,0.2),(29,0.5),(31,0.13),
         (33,0.7),(35,0.4),(37,0.2),(39,0.65),(41,0.13),(43,0.45),(45,0.35),(47,0.75),(49,0.13),(51,0.6),(53,0.2),(55,0.45),(57,0.8),
         (59,0.13),(61,0.5),(63,0.3),(65,0.7),(67,0.13),(69,0.55),(71,0.2),(73,0.4),(75,0.62),(77,0.13),(79,0.45),(81,0.3),(83,0.75),
         (85,0.13),(87,0.55),(89,0.35),(91,0.13)]
chr16 = [(2,3.74),(3,3.48),(66,3.66),(88,3.67),(2,3.05),(5,2.95),(30,3.06),(66,2.6),(1,2.17),(2,2.01),(3,1.94),(29,2.03),(68,1.9),
         (73,2.18),(80,2.2),(1,1.73),(16,1.62),(24,1.63),(52,1.56),(55,1.51),(32,1.39),(69,1.39),(1,1.44),(2,1.37),
         (2,0.55),(4,0.2),(6,0.85),(8,0.4),(10,0.13),(12,0.65),(14,0.3),(16,0.9),(18,0.5),(20,0.13),(22,0.72),(24,0.35),(26,0.58),
         (28,0.2),(30,0.8),(32,0.45),(34,0.13),(36,0.62),(38,0.3),(40,0.92),(42,0.5),(44,0.13),(46,0.7),(48,0.38),(50,0.6),(52,0.2),
         (54,0.85),(56,0.42),(58,0.13),(60,0.68),(62,0.3),(64,0.55),(66,0.13),(68,0.78),(70,0.45),(72,0.2),(74,0.62),(76,0.13),(78,0.88),
         (80,0.4),(82,0.6),(84,0.2),(86,0.72),(88,0.35),(90,0.55),
         (1,0.3),(3,0.7),(5,0.13),(7,0.5),(9,0.25),(11,0.8),(13,0.13),(15,0.45),(17,0.6),(19,0.2),(21,0.4),(23,0.13),(25,0.7),(27,0.35),
         (29,0.5),(31,0.13),(33,0.6),(35,0.25),(37,0.8),(39,0.13),(41,0.45),(43,0.3),(45,0.6),(47,0.13),(49,0.4),(51,0.72),(53,0.13),
         (55,0.3),(57,0.55),(59,0.2),(61,0.45),(63,0.13),(65,0.7),(67,0.3),(69,0.13),(71,0.55),(73,0.35),(75,0.8),(77,0.2),(79,0.45),
         (81,0.13),(83,0.62),(85,0.3),(87,0.13),(89,0.45),(91,0.2)]
chr17 = [(8,4.45),(45,4.36),(3,3.78),(4,3.7),(26,3.51),(34,3.02),(36,2.71),(15,2.35),(17,2.12),(36,2.18),(38,2.08),(73,2.26),(77,1.84),
         (40,1.75),(36,1.71),(34,1.69),(3,1.61),(17,1.63),(36,1.6),(3,1.56),(20,1.55),(36,1.57),(71,1.55),(75,1.51),(6,1.45),(14,1.38),
         (39,1.42),(48,1.35),(59,1.3),(68,1.4),(8,1.25),(28,1.2),(51,1.22),(65,1.15),(79,1.18),
         (1,0.5),(2,0.13),(3,0.85),(4,0.3),(5,1.05),(6,0.62),(7,0.2),(8,0.75),(9,0.4),(10,0.13),(11,0.95),(12,0.55),(13,0.25),(14,0.7),
         (15,0.13),(16,0.88),(17,0.45),(18,0.2),(19,0.65),(20,1.1),(21,0.35),(22,0.13),(23,0.8),(24,0.5),(25,0.25),(26,0.6),(27,0.13),
         (28,0.92),(29,0.4),(30,0.7),(31,0.2),(32,0.55),(33,0.13),(34,0.85),(35,0.3),(36,1.0),(37,0.62),(38,0.13),(39,0.45),(40,0.78),
         (42,0.25),(44,0.6),(46,0.13),(48,0.9),(50,0.4),(52,0.7),(54,0.2),(56,0.55),(58,0.13),(60,0.82),(62,0.35),(64,0.65),(66,0.13),
         (68,0.95),(70,0.45),(72,0.2),(74,0.72),(76,0.13),(78,0.5),(80,0.85),(81,0.3),
         (1.5,0.75),(2.5,0.35),(3.5,0.13),(4.5,0.6),(5.5,0.25),(6.5,0.9),(7.5,0.45),(8.5,0.13),(9.5,0.62),(10.5,0.3),(11.5,0.8),(12.5,0.13),
         (13.5,0.45),(14.5,1.0),(15.5,0.35),(16.5,0.6),(17.5,0.13),(18.5,0.75),(19.5,0.4),(20.5,0.2),(21.5,0.65),(22.5,0.9),(23.5,0.3),
         (24.5,0.13),(25.5,0.55),(26.5,0.8),(27.5,0.4),(28.5,0.2),(29.5,0.6),(30.5,0.13),(31.5,0.85),(32.5,0.35),(33.5,0.55),(34.5,0.13),
         (35.5,0.7),(36.5,0.4),(37.5,0.2),(38.5,0.9),(40,0.13),(41,0.55),(43,0.35),(45,0.8),(47,0.4),(49,0.13),(51,0.6),(53,0.3),(55,0.85),
         (57,0.2),(59,0.5),(61,0.13),(63,0.45),(65,0.75),(67,0.3),(69,0.55),(71,0.13),(73,0.4),(75,0.6),(77,0.25),(79,0.7),(80.5,0.13)]
chr18 = [(29,4.41),(41,4.34),(1,3.07),(67,2.37),(70,2.15),(56,1.75),(36,1.45),(32,1.16),(15,1.09),(24,1.23),(33,1.16),(48,0.93),
         (53,1.53),(40,1.42),
         (2,0.45),(5,0.13),(8,0.7),(11,0.3),(14,0.55),(17,0.2),(20,0.82),(23,0.4),(26,0.13),(29,0.62),(32,0.3),(35,0.5),(38,0.13),
         (41,0.75),(44,0.35),(47,0.58),(50,0.2),(53,0.88),(56,0.42),(59,0.13),(62,0.65),(65,0.3),(68,0.5),(70,0.2),
         (3,0.25),(6,0.6),(9,0.13),(12,0.45),(15,0.7),(18,0.3),(21,0.13),(24,0.55),(27,0.35),(30,0.13),(33,0.6),(36,0.2),(39,0.45),
         (42,0.13),(45,0.7),(48,0.3),(51,0.5),(54,0.13),(57,0.35),(60,0.6),(63,0.13),(66,0.45),(69,0.7)]
chr19 = [(55,4.39),(41,3.7),(54,3.69),(62,3.87),(10,2.86),(17,2.9),(53,2.97),(64,3.15),(10,2.25),(41,2.37),(48,2.34),(49,2.2),
         (51,2.09),(57,2.01),(43,1.86),(44,1.82),(42,1.74),(62,1.74),(20,1.67),(6,1.61),(6,1.45),(17,1.52),(34,1.48),(45,1.55),(56,1.45),
         (23,1.38),(39,1.35),(51,1.3),(3,1.2),(11,1.25),(28,1.18),(48,1.22),(62,1.15),
         (1,0.5),(2,0.13),(3,0.9),(4,0.3),(5,0.7),(6,1.1),(7,0.2),(8,0.6),(9,0.13),(10,0.85),(11,0.4),(12,1.0),(13,0.25),(14,0.65),
         (15,0.13),(16,0.5),(17,0.95),(18,0.3),(19,0.75),(20,0.13),(21,0.45),(22,1.2),(23,0.55),(24,0.2),(25,0.8),(26,0.35),(27,0.62),
         (28,0.13),
         (1.5,0.8),(2.5,0.35),(3.5,0.6),(4.5,0.13),(5.5,0.45),(6.5,0.75),(7.5,0.4),(8.5,0.95),(9.5,0.25),(10.5,0.6),(11.5,0.13),(12.5,0.7),
         (13.5,0.45),(14.5,0.9),(15.5,0.3),(16.5,0.13),(17.5,0.6),(18.5,1.05),(19.5,0.4),(20.5,0.7),(21.5,0.2),(22.5,0.85),(23.5,0.35),
         (24.5,0.6),(25.5,0.13),(26.5,0.95),(27.5,0.4),
         (37,0.45),(38,0.85),(39,0.13),(40,0.6),(41,1.15),(42,0.3),(43,0.75),(44,0.13),(45,0.95),(46,0.5),(47,0.2),(48,0.7),(49,1.05),
         (50,0.35),(51,0.13),(52,0.6),(53,0.88),(54,0.25),(55,0.5),(56,1.25),(57,0.13),(58,0.7),(59,0.4),(60,0.92),(61,0.2),(62,0.55),
         (63,0.13),(64,0.8),(65,0.35),(66,0.6),(67,0.13),(68,0.45),
         (37.5,0.7),(38.5,0.25),(39.5,0.55),(40.5,0.9),(41.5,0.13),(42.5,0.6),(43.5,1.0),(44.5,0.4),(45.5,0.7),(46.5,0.13),(47.5,0.85),
         (48.5,0.45),(49.5,0.25),(50.5,0.75),(51.5,0.55),(52.5,1.1),(53.5,0.13),(54.5,0.65),(55.5,0.9),(56.5,0.35),(57.5,0.55),(58.5,0.13),
         (59.5,0.8),(60.5,0.45),(61.5,1.0),(62.5,0.25),(63.5,0.7),(64.5,0.13),(65.5,0.5),(66.5,0.85),(67.5,0.3)]
chr20 = [(10,1.89),(20,1.59),(29,1.59),(39,1.42),(53,1.45),(54,1.35),(15,0.97),(30,1.3),(45,1.2),
         (2,0.4),(5,0.75),(8,0.13),(11,0.55),(14,0.3),(17,0.85),(20,0.2),(23,0.6),(26,0.13),(29,0.45),(32,0.8),(35,0.3),(38,0.55),
         (41,0.13),(44,0.7),(47,0.38),(50,0.9),(53,0.2),(56,0.6),(59,0.13),(62,0.45),
         (3,0.2),(6,0.55),(9,0.3),(12,0.13),(15,0.65),(18,0.4),(21,0.13),(24,0.5),(27,0.3),(30,0.7),(33,0.13),(36,0.45),(39,0.25),
         (42,0.6),(45,0.13),(48,0.5),(51,0.3),(54,0.65),(57,0.13),(60,0.4),(63,0.2)]
chr21 = [(25,2.49),(26,1.9),(19,1.62),(24,1.47),(40,1.44),(28,1.17),(35,1.11),(12,0.87),(19,0.87),(34,0.87),(3,0.54),
         (9,0.35),(11,0.7),(13,0.13),(15,0.5),(17,0.25),(19,0.65),(21,0.13),(23,0.45),(25,0.8),(27,0.3),(29,0.13),(31,0.55),(33,0.2),
         (35,0.7),(37,0.13),(39,0.4),(41,0.6),
         (10,0.13),(12,0.45),(14,0.3),(16,0.13),(18,0.55),(20,0.2),(22,0.75),(24,0.13),(26,0.5),(28,0.3),(30,0.13),(32,0.4),(34,0.13),
         (36,0.3),(38,0.55),(40,0.13)]
chr22 = [(10,3.05),(17,2.73),(10,2.54),(29,2.55),(10,2.16),(12,2.04),(34,2.23),(43,1.94),(41,1.7),(22,1.68),(23,1.63),(10,1.55),
         (14,1.5),(20,1.45),(25,1.38),(39,1.2),(38,1.11),(35,1.02),(35,0.92),
         (2,0.5),(4,0.13),(6,0.8),(8,0.35),(10,0.6),(12,0.2),(14,0.9),(16,0.45),(18,0.13),(20,0.7),(22,0.3),(24,0.55),(26,0.13),
         (28,0.85),(30,0.4),(32,0.62),(34,0.2),(36,0.75),(38,0.13),(40,0.5),(42,0.3),(44,0.65),(46,0.13),(48,0.45),(50,0.25),
         (1,0.3),(3,0.7),(5,0.45),(7,0.13),(9,0.55),(11,0.3),(13,0.65),(15,0.13),(17,0.5),(19,0.25),(21,0.6),(23,0.13),(25,0.4),(27,0.7),
         (29,0.2),(31,0.5),(33,0.13),(35,0.35),(37,0.6),(39,0.2),(41,0.45),(43,0.13),(45,0.5),(47,0.3),(49,0.62)]

# stretches of genes with -log10(p) ~ 0 (chromosome, start Mb, end Mb)
zero_runs = [(1,0,121),(1,144,248),(2,0,246),(3,3,84),(3,98,195),(4,0,186),(5,0,186),(6,0,172),(7,0,158),(8,0,148),
             (9,0,40),(9,68,140),(10,0,133),(11,0,138),(12,0,135),(13,12,48),(13,58,116),(14,0,113),(15,4,92),(16,0,92),
             (17,0,82),(18,0,71),(19,0,71),(20,0,65),(21,5,45),(22,0,51)]

# labelled genes
hit_genes = ["FGFR1", "OTOG", "PIEZO1", "IFRD2", "COL6A5", "CSMD1", "CACNA1H", "CHD7", "MYO18B", "RECQL4",
             "DNAH14", "FNDC1", "MGAM", "CCDC168", "MYO9B", "MYBPC2", "SOX10"]
hit_chrom = [8, 11, 16, 3, 3, 8, 16, 8, 22, 8, 1, 6, 7, 13, 19, 19, 22]
hit_pos = [37.5, 20, 88, 51, 131, 62, 1, 3, 17, 146, 227.6, 161, 141, 100, 22, 54, 10]
hit_lp = [6.96, 6.96, 6.70, 6.30, 6.04, 5.96, 5.92, 5.85, 5.85, 5.51, 5.14, 4.87, 4.60, 4.59, 4.60, 4.65, 3.05]

threshold = 5.61

# ---------------- styling / layout ----------------
FONT = "Liberation Sans, Arial, sans-serif"
BLACK = "#1e1e1e"
GRAY = "#9d9d9d"

chrom_pts = [chr1, chr2, chr3, chr4, chr5, chr6, chr7, chr8, chr9, chr10, chr11,
             chr12, chr13, chr14, chr15, chr16, chr17, chr18, chr19, chr20, chr21, chr22]

offsets = []
acc = 0
for s in chrom_span:
    offsets.append(acc)
    acc += s
genome_end = acc
centers = [o + s / 2 for o, s in zip(offsets, chrom_span)]

pts = {0: ([], []), 1: ([], [])}   # 0 -> black (odd chromosomes), 1 -> gray
for i, lst in enumerate(chrom_pts):
    xs, ys = pts[i % 2]
    for p, v in lst:
        xs.append(offsets[i] + p)
        ys.append(v)
for c, p, v in zip(hit_chrom, hit_pos, hit_lp):
    xs, ys = pts[(c - 1) % 2]
    xs.append(offsets[c - 1] + p)
    ys.append(v)

runs = {0: ([], []), 1: ([], [])}
for c, a, b in zero_runs:
    xs, ys = runs[(c - 1) % 2]
    xs += [offsets[c - 1] + a, offsets[c - 1] + b, None]
    ys += [0, 0, None]

fig = go.Figure()

fig.add_shape(type="line", x0=0, x1=genome_end, y0=0, y1=0, xref="x", yref="y",
              line=dict(color="#a8a8a8", width=1), layer="below")

for k, col in ((1, GRAY), (0, BLACK)):
    rx, ry = runs[k]
    fig.add_trace(go.Scatter(x=rx, y=ry, mode="lines", line=dict(color=col, width=2.5),
                             hoverinfo="skip", showlegend=False, cliponaxis=False))
    fig.add_trace(go.Scatter(x=rx, y=[None if v is None else 0.065 for v in ry], mode="lines",
                             line=dict(color=col, width=3, dash="3px,2px"),
                             hoverinfo="skip", showlegend=False, cliponaxis=False))
    px_, py_ = pts[k]
    fig.add_trace(go.Scatter(x=px_, y=py_, mode="markers",
                             marker=dict(color=col, size=4.6, line=dict(width=0)),
                             showlegend=False, cliponaxis=False))

fig.add_shape(type="line", xref="paper", x0=0, x1=1, yref="y", y0=threshold, y1=threshold,
              line=dict(color="#f27c7c", width=1.2))

# label offsets (pixels) relative to each labelled point, and font size
label_style = {
    "FGFR1": (7, 12, 16), "OTOG": (5, 12, 16), "PIEZO1": (4, 11, 16), "IFRD2": (5.5, 10, 16),
    "COL6A5": (27.5, 10, 16), "CSMD1": (25.5, 12, 16), "CACNA1H": (5.5, 14.5, 16), "CHD7": (-14.5, 13.5, 16),
    "MYO18B": (4, 12.5, 16), "RECQL4": (2.5, -13, 14.5), "DNAH14": (2, 13, 14.5), "FNDC1": (0, 14, 14.5),
    "MGAM": (-5, 14, 14.5), "CCDC168": (1, 14, 14.5), "MYO9B": (-27.5, 11.5, 14.5), "MYBPC2": (24.5, 11.5, 14.5),
    "SOX10": (14.5, 15.5, 14.5),
}
underlined = {"FGFR1", "CHD7", "SOX10"}
starred = {"OTOG": (36, 17), "PIEZO1": (40.5, 19)}

annotations = []
for g, c, p, v in zip(hit_genes, hit_chrom, hit_pos, hit_lp):
    dx, dy, fs = label_style[g]
    txt = f"<u>{g}</u>" if g in underlined else g
    color = "#ff0000" if g == "FGFR1" else "#111111"
    x = offsets[c - 1] + p
    annotations.append(dict(x=x, y=v, xref="x", yref="y", text=txt, showarrow=False,
                            xshift=dx, yshift=dy, xanchor="center", yanchor="middle",
                            font=dict(family=FONT, size=fs, color=color)))
    if g in starred:
        sx, sy = starred[g]
        annotations.append(dict(x=x, y=v, xref="x", yref="y", text="*", showarrow=False,
                                xshift=sx, yshift=sy, xanchor="center", yanchor="middle",
                                font=dict(family=FONT, size=28, color="#111111")))

annotations.append(dict(x=0.4847, y=-0.081, xref="paper", yref="paper", text="Chromosome",
                        showarrow=False, xanchor="center", yanchor="middle",
                        font=dict(family=FONT, size=17, color="#1a1a1a")))
annotations.append(dict(x=-0.0278, y=0.504, xref="paper", yref="paper", text="-log<sub>10</sub>(p)",
                        showarrow=False, xanchor="center", yanchor="middle", textangle=-90,
                        font=dict(family=FONT, size=17, color="#1a1a1a")))

fig.update_layout(
    width=1128, height=576,
    margin=dict(l=47, r=0, t=31, b=51),
    paper_bgcolor="white", plot_bgcolor="white",
    annotations=annotations,
    xaxis=dict(range=[-84.7, 2968.1], tickvals=centers, ticktext=chrom_names, tickangle=0,
               ticks="outside", ticklen=5, tickcolor="#8a8a8a", showline=False,
               showgrid=False, zeroline=False, ticklabelstandoff=-5,
               tickfont=dict(family=FONT, size=16.5, color="#1a1a1a")),
    yaxis=dict(range=[-0.05, 7], tickvals=list(range(8)), ticks="outside", ticklen=5,
               tickcolor="#5a5a5a", showline=True, linecolor="#5a5a5a", linewidth=1,
               showgrid=False, zeroline=False, ticklabelstandoff=8,
               tickfont=dict(family=FONT, size=17, color="#1a1a1a")),
    showlegend=False,
)

fig.write_html("out.html")
